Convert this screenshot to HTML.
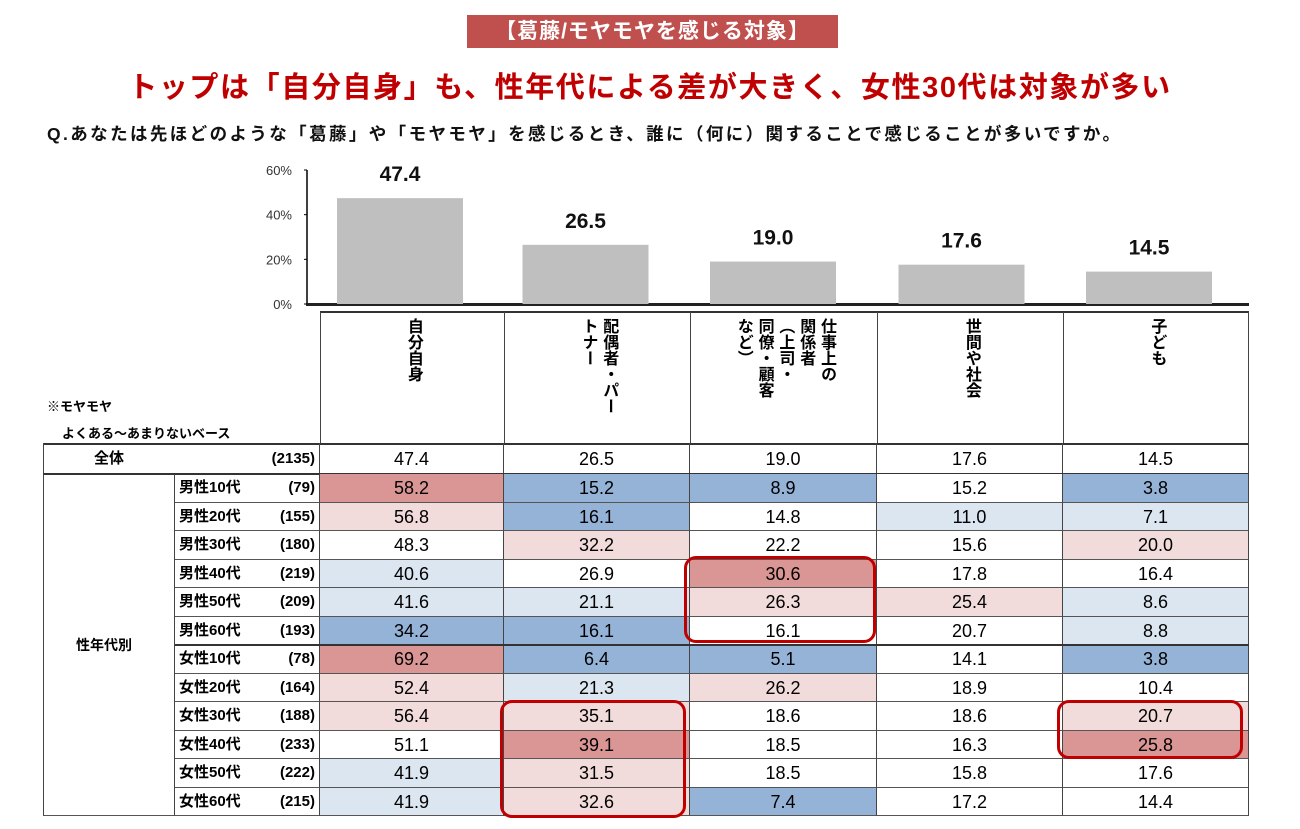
<!DOCTYPE html>
<html><head><meta charset="utf-8">
<style>
body{margin:0;background:#fff;width:1300px;height:829px;position:relative;overflow:hidden;font-family:"Liberation Sans","Noto Sans CJK JP",sans-serif;}
.a{position:absolute;}
#title-box{left:467px;top:15px;width:371px;height:33px;background:#c0504d;color:#fff;font-size:21px;font-weight:bold;text-align:center;line-height:33px;letter-spacing:1px;}
#headline{left:0;width:1300px;top:64px;text-align:center;color:#c00000;font-size:29px;font-weight:bold;letter-spacing:1.6px;}
#question{left:47px;top:121px;font-size:17.5px;font-weight:bold;color:#111;letter-spacing:2.4px;white-space:nowrap;}
.cell{position:absolute;box-sizing:border-box;text-align:center;font-size:18px;color:#000;border-right:1px solid #444;border-bottom:1px solid #555;}
.hdr{position:absolute;box-sizing:border-box;display:flex;justify-content:center;align-items:flex-start;padding-top:6px;}
.hdr span{writing-mode:vertical-rl;font-size:16px;font-weight:bold;line-height:1.3;}
.lbl{position:absolute;font-size:15px;font-weight:bold;}
.hl{position:absolute;border:3px solid #c00000;border-radius:12px;box-sizing:border-box;}
</style></head><body>
<div class="a" id="title-box">【葛藤/モヤモヤを感じる対象】</div>
<div class="a" id="headline">トップは「自分自身」も、性年代による差が大きく、女性30代は対象が多い</div>
<div class="a" id="question">Q.あなたは先ほどのような「葛藤」や「モヤモヤ」を感じるとき、誰に（何に）関することで感じることが多いですか。</div>
<svg class="a" style="left:0;top:0" width="1300" height="310" id="chart"></svg>
<div class="a" id="table" style="left:0;top:0;width:1300px;height:829px;"></div>
<div class="lbl" style="left:47px;top:396px;font-size:13px;">※モヤモヤ</div>
<div class="lbl" style="left:62px;top:423px;font-size:13px;">よくある～あまりないベース</div>
<div class="hl" style="left:684px;top:556px;width:192px;height:87px;"></div>
<div class="hl" style="left:500px;top:700px;width:186px;height:118px;"></div>
<div class="hl" style="left:1057px;top:700px;width:186px;height:59px;"></div>
<script>
const categories=["自分自身","配偶者・パートナー","仕事上の関係者（上司・同僚・顧客など）","世間や社会","子ども"];
const headerLines=[["自分自身"],["配偶者・パー","トナー"],["仕事上の","関係者","（上司・","同僚・顧客","など）"],["世間や社会"],["子ども"]];
const totals=[47.4,26.5,19.0,17.6,14.5];
const yTicks=[0,20,40,60];
const rowLabels=["男性10代","男性20代","男性30代","男性40代","男性50代","男性60代","女性10代","女性20代","女性30代","女性40代","女性50代","女性60代"];
const rowN=[79,155,180,219,209,193,78,164,188,233,222,215];
const values=[[58.2,15.2,8.9,15.2,3.8],[56.8,16.1,14.8,11.0,7.1],[48.3,32.2,22.2,15.6,20.0],[40.6,26.9,30.6,17.8,16.4],[41.6,21.1,26.3,25.4,8.6],[34.2,16.1,16.1,20.7,8.8],[69.2,6.4,5.1,14.1,3.8],[52.4,21.3,26.2,18.9,10.4],[56.4,35.1,18.6,18.6,20.7],[51.1,39.1,18.5,16.3,25.8],[41.9,31.5,18.5,15.8,17.6],[41.9,32.6,7.4,17.2,14.4]];
const shade=[[2,-2,-2,0,-2],[1,-2,0,-1,-1],[0,1,0,0,1],[-1,0,2,0,0],[-1,-1,1,1,-1],[-2,-2,0,0,-1],[2,-2,-2,0,-2],[1,-1,1,0,0],[1,1,0,0,1],[0,2,0,0,2],[-1,1,0,0,0],[-1,1,-2,0,0]];
const colors={"2":"#da9694","1":"#f2dcdb","0":"#ffffff","-1":"#dce6f1","-2":"#95b3d7"};
const NS="http://www.w3.org/2000/svg";
const svg=document.getElementById('chart');
const colX=[320,504,690,877,1063,1249];
const y0=304,pxPer=134/60;
const yS=v=>y0-v*pxPer;
function mk(t,a){const e=document.createElementNS(NS,t);for(const k in a)e.setAttribute(k,a[k]);svg.appendChild(e);return e;}
let ax=mk('line',{x1:307,y1:170,x2:307,y2:y0,stroke:'#000','stroke-width':1.5});

let bx=mk('line',{x1:306,y1:y0+0.5,x2:1249,y2:y0+0.5,stroke:'#222','stroke-width':3});

yTicks.forEach(t=>{
 mk('line',{x1:304,y1:yS(t),x2:307,y2:yS(t),stroke:'#000'});
 const tx=mk('text',{x:292,y:yS(t)+5,'text-anchor':'end','font-size':13,fill:'#333'});tx.textContent=t+'%';
 
});
totals.forEach((v,i)=>{
 const w=126,x=colX[i]+17+i*1.5;
 const r=mk('rect',{x:x,y:yS(v),width:w,height:y0-yS(v),fill:'#bfbfbf'});
 
 const t=mk('text',{x:x+w/2,y:yS(v)-17,'text-anchor':'middle','font-size':21,'font-weight':'bold',fill:'#111'});t.textContent=v.toFixed(1);
 
});
const tb=document.getElementById('table');
function div(cls,style,txt){const d=document.createElement('div');d.className=cls;d.setAttribute('style',style);if(txt!==undefined)d.textContent=txt;tb.appendChild(d);return d;}
let hb=div('a',`left:${colX[0]}px;top:311px;width:${colX[5]-colX[0]}px;height:2px;background:#333`);

headerLines.forEach((lines,i)=>{
 const h=div('hdr',`left:${colX[i]}px;top:312px;width:${colX[i+1]-colX[i]}px;height:131px;border-left:1px solid #444;${i==4?'border-right:1px solid #444;':''}`);
 h.innerHTML='<span>'+lines.join('<br>')+'</span>';
 
});
const tTop=443,tH=31;
let tr=div('a',`left:43px;top:${tTop}px;width:${colX[5]-43}px;height:2px;background:#333`);

let tl=div('cell',`left:43px;top:${tTop}px;width:277px;height:${tH}px;border-left:1px solid #444;line-height:${tH}px;font-size:15px;font-weight:bold;text-align:left;`);
tl.innerHTML='<span style="position:absolute;left:50px">全体</span><span style="position:absolute;right:4px">(2135)</span>';

totals.forEach((v,i)=>{
 const c=div('cell',`left:${colX[i]}px;top:${tTop}px;width:${colX[i+1]-colX[i]}px;height:${tH}px;line-height:${tH+2}px;`,v.toFixed(1));
 
});
const rTop=474,rH=28.5;
let tb2=div('a',`left:43px;top:${rTop-1}px;width:${colX[5]-43}px;height:2px;background:#333`);

let g=div('cell',`left:43px;top:${rTop}px;width:132px;height:${rH*12}px;border-left:1px solid #444;font-size:14px;font-weight:bold;line-height:${rH*12}px;`,'性年代別');
g.style.textAlign='left';g.style.paddingLeft='32px';

rowLabels.forEach((lab,r)=>{
 const y=rTop+r*rH;
 const l=div('cell',`left:175px;top:${y}px;width:145px;height:${rH}px;line-height:${rH}px;font-size:15px;font-weight:bold;text-align:left;`);
 l.innerHTML=`<span style="position:absolute;left:4px">${lab}</span><span style="position:absolute;right:4px">(${rowN[r]})</span>`;
 
 values[r].forEach((v,i)=>{
  const c=div('cell',`left:${colX[i]}px;top:${y}px;width:${colX[i+1]-colX[i]}px;height:${rH}px;line-height:${rH+1}px;background:${colors[shade[r][i]]};`,v.toFixed(1));
  
 });
});
let mid=div('a',`left:175px;top:${rTop+6*rH-1}px;width:${colX[5]-175}px;height:2px;background:#333`);

</script>
</body></html>
